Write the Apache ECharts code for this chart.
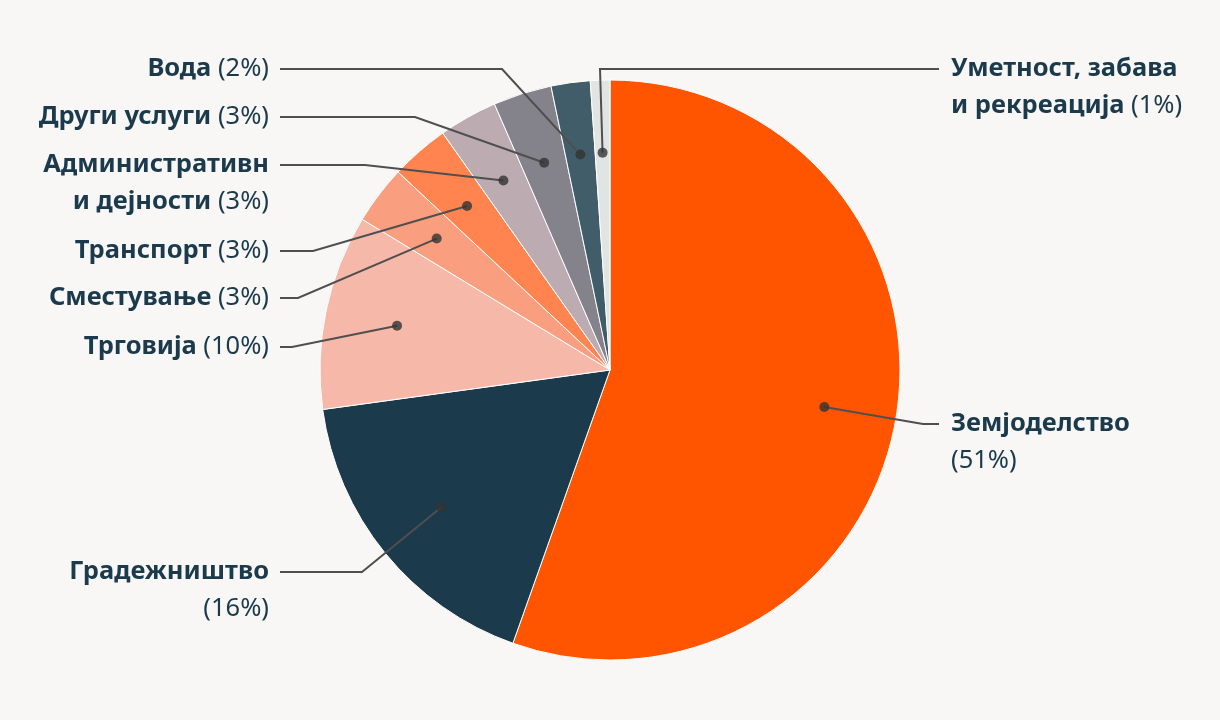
<!DOCTYPE html>
<html>
<head>
<meta charset="utf-8">
<style>
  html, body { margin: 0; padding: 0; background: #f8f7f5; }
  #chart { width: 1220px; height: 720px; }
</style>
<script src="https://cdn.jsdelivr.net/npm/echarts@6/dist/echarts.min.js"></script>
</head>
<body>
<div id="chart"></div>
<script>
// ---- data ----
const categories = [
  'Земјоделство',
  'Градежништво',
  'Трговија',
  'Сместување',
  'Транспорт',
  'Административн\nи дејности',
  'Други услуги',
  'Вода',
  'Уметност, забава\nи рекреација'
];
const values = [51, 16, 10, 3, 3, 3, 3, 2, 1];

// ---- styles / layout ----
const colors = ['#ff5500', '#1b3a4b', '#f6b9a9', '#f99e7f', '#ff844f', '#bcacb1', '#84838b', '#415d69', '#e0e5e3'];
const labelSide = ['right', 'left', 'left', 'left', 'left', 'left', 'left', 'left', 'right'];
const pctOnNewLine = [true, true, false, false, false, false, false, false, false];
const labelLineY = [424, 572, 347, 298, 251, 165, 117, 69, 69];
const elbowX = [923, 362, 292, 298, 313, 365, 415, 502, 600];

const CX = 610, CY = 370, R = 290, DOT_R = 0.75;
const FONT = '"Noto Sans", "Open Sans", sans-serif';
const TEXT_COLOR = '#1b3a4b';
const FS = 25.5, LH = 37;

const total = values.reduce((a, b) => a + b, 0);
const mids = [];
let acc = 0;
values.forEach(v => { mids.push(acc + v / 2); acc += v; });

const chart = echarts.init(document.getElementById('chart'), null, { renderer: 'canvas' });

function fmt(params) {
  const i = params.dataIndex;
  const lines = categories[i].split('\n');
  const pct = '{p|(' + values[i] + '%)}';
  const parts = lines.map(l => '{b|' + l + '}');
  if (pctOnNewLine[i]) {
    return parts.join('\n') + '\n' + pct;
  }
  parts[parts.length - 1] += '{p| }' + pct;
  return parts.join('\n');
}

chart.setOption({
  backgroundColor: '#f8f7f5',
  animation: false,
  polar: { center: [CX, CY], radius: R },
  angleAxis: { type: 'value', min: 0, max: total, startAngle: 90, clockwise: true, show: false },
  radiusAxis: { type: 'value', min: 0, max: 1, show: false },
  series: [
    {
      type: 'pie',
      center: [CX, CY],
      radius: R,
      startAngle: 90,
      clockwise: true,
      silent: true,
      label: { show: false },
      labelLine: { show: false },
      itemStyle: { borderColor: '#ffffff', borderWidth: 1 },
      data: categories.map((c, i) => ({ name: c, value: values[i], itemStyle: { color: colors[i] } }))
    },
    {
      type: 'pie',
      center: [CX, CY],
      radius: R * DOT_R,
      startAngle: 90,
      clockwise: true,
      silent: true,
      z: 5,
      itemStyle: { color: 'rgba(0,0,0,0)', borderWidth: 0 },
      label: {
        show: true,
        position: 'outside',
        formatter: fmt,
        rich: {
          b: { fontFamily: FONT, fontSize: FS, fontWeight: 700, color: TEXT_COLOR, lineHeight: LH },
          p: { fontFamily: FONT, fontSize: FS, fontWeight: 400, color: TEXT_COLOR, lineHeight: LH }
        }
      },
      labelLine: { show: true, smooth: false, lineStyle: { color: '#4f4f4f', width: 2 } },
      labelLayout: function (params) {
        const i = params.dataIndex;
        const right = labelSide[i] === 'right';
        const y = labelLineY[i];
        const xText = right ? 951 : 269;
        const xEnd = right ? 939 : 280;
        const p0 = params.labelLinePoints ? params.labelLinePoints[0] : [CX, CY];
        return {
          x: xText,
          y: y - LH / 2,
          align: right ? 'left' : 'right',
          verticalAlign: 'top',
          labelLinePoints: [p0, [elbowX[i], y], [xEnd, y]]
        };
      },
      data: categories.map((c, i) => ({ name: c, value: values[i] }))
    },
    {
      type: 'scatter',
      coordinateSystem: 'polar',
      symbol: 'circle',
      symbolSize: 10,
      silent: true,
      z: 10,
      itemStyle: { color: '#333333' },
      data: mids.map(m => [DOT_R, m])
    }
  ]
});
</script>
</body>
</html>
